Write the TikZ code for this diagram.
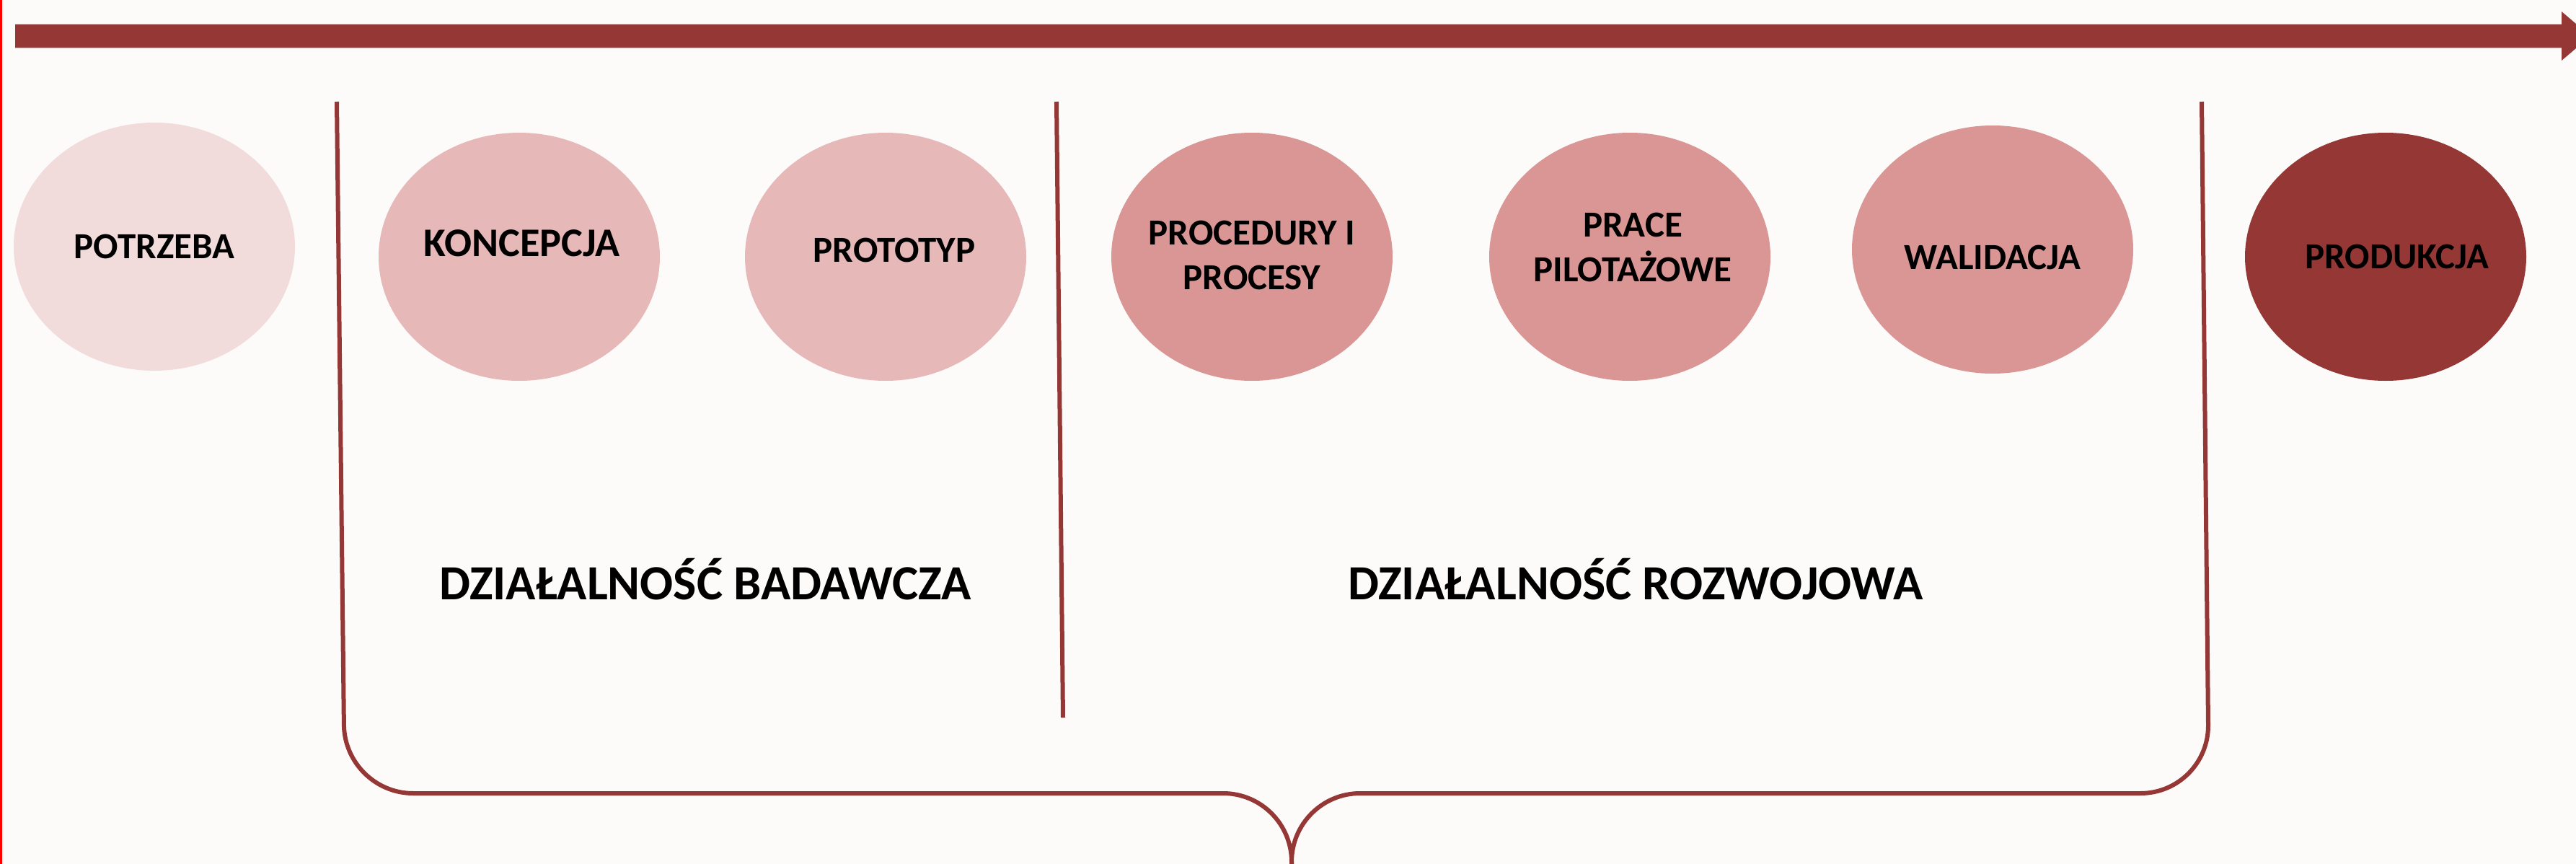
\documentclass[tikz,border=0pt]{standalone}
\usepackage{fontspec}
\setmainfont{Carlito}
\usetikzlibrary{shapes.geometric, positioning}

\definecolor{bordo}{HTML}{953735}
\definecolor{roz1}{HTML}{F2DCDB}
\definecolor{roz2}{HTML}{E6B9B8}
\definecolor{roz3}{HTML}{D99694}
\definecolor{tlo}{HTML}{FCFBFA}

\begin{document}
\begin{tikzpicture}[
      on grid, node distance=5.08cm,
      etap/.style={ellipse, minimum width=3.9cm, minimum height=3.44cm, inner sep=0pt},
      napis/.style={font=\fontsize{14.5}{17.4}\selectfont\bfseries, align=center, inner sep=0pt},
      dzial/.style={font=\fontsize{19.4}{23}\selectfont\bfseries, inner sep=0pt},
      klamra/.style={draw=bordo, line width=0.06cm, rounded corners=0.95cm}
      ]

      \fill[tlo] (0,0) rectangle (35.72,-11.98);
      \useasboundingbox (0,0) rectangle (35.72,-11.98);
      \clip (0,0) rectangle (35.72,-11.98);
      \fill[red] (0,0) rectangle (0.03,-11.98);

      % os czasu
      \fill[bordo] (0.21,-0.335) -- (35.52,-0.335) -- (35.52,-0.16) -- (35.92,-0.50)
        -- (35.52,-0.84) -- (35.52,-0.665) -- (0.21,-0.665) -- cycle;

      % etapy
      \node[etap, fill=roz1] (potrzeba) at (2.14,-3.42) {};
      \node[etap, fill=roz2] (koncepcja) [below right=0.14 and 5.06 of potrzeba] {};
      \node[etap, fill=roz2] (prototyp)  [right=of koncepcja] {};
      \node[etap, fill=roz3] (procedury) [right=of prototyp] {};
      \node[etap, fill=roz3] (prace)     [right=5.24 of procedury] {};
      \node[etap, fill=roz3] (walidacja) [above right=0.10 and 5.03 of prace] {};
      \node[etap, fill=bordo] (produkcja) [below right=0.10 and 5.45 of walidacja] {};

      \node[napis] (t_potrzeba)  at (potrzeba) {POTRZEBA};
      \node[napis, font=\fontsize{16}{19}\selectfont\bfseries] (t_koncepcja)
        [above right=0.19 and 0.04 of koncepcja] {KONCEPCJA};
      \node[napis] (t_prototyp)  [above right=0.09 and 0.12 of prototyp] {PROTOTYP};
      \node[napis] (t_procedury) [above=0.02 of procedury] {PROCEDURY I\\PROCESY};
      \node[napis] (t_prace)     [above right=0.13 and 0.04 of prace] {PRACE\\PILOTAŻOWE};
      \node[napis] (t_walidacja) [below=0.11 of walidacja] {WALIDACJA};
      \node[napis] (t_produkcja) [right=0.16 of produkcja] {PRODUKCJA};

      % podzial
      \coordinate (lewa)   at (4.67,-1.41);
      \coordinate (srodek) at (14.65,-1.41);
      \coordinate (prawa)  at (30.53,-1.41);
      \coordinate (dol)    at (17.91,-12.3);

      \draw[klamra] (lewa) -- (4.78,-11.00) -- (17.91,-11.00) -- (dol);
      \draw[klamra] (dol) -- (17.91,-11.00) -- (30.63,-11.00) -- (prawa);
      \draw[bordo, line width=0.06cm] (srodek) -- (14.74,-9.95);

      \node[dzial] (badawcza)  at (9.78,-8.03)  {DZIAŁALNOŚĆ BADAWCZA};
      \node[dzial] (rozwojowa) at (22.68,-8.03) {DZIAŁALNOŚĆ ROZWOJOWA};
\end{tikzpicture}
\end{document}
